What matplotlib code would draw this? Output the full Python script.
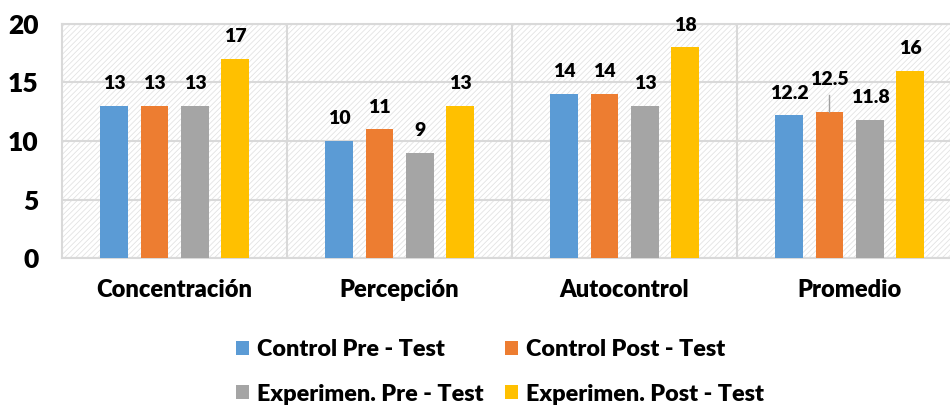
import numpy as np
import matplotlib.pyplot as plt
from matplotlib.patches import Rectangle, Patch

categories = ["Concentración", "Percepción", "Autocontrol", "Promedio"]
series_names = ["Control Pre - Test", "Control Post - Test",
                "Experimen. Pre - Test", "Experimen. Post - Test"]
control_pre = [13, 10, 14, 12.2]
control_post = [13, 11, 14, 12.5]
exper_pre = [13, 9, 13, 11.8]
exper_post = [17, 13, 18, 16]
labels_pre = ["13", "10", "14", "12.2"]
labels_post = ["13", "11", "14", "12.5"]
labels_epre = ["13", "9", "13", "11.8"]
labels_epost = ["17", "13", "18", "16"]

colors = ["#5B9BD5", "#ED7D31", "#A5A5A5", "#FFC000"]
grid_c = "#d9d9d9"
W = "heavy"

plt.rcParams['font.family'] = ['Lato', 'DejaVu Sans']
plt.rcParams['font.weight'] = W
plt.rcParams['hatch.linewidth'] = 0.6
plt.rcParams['hatch.color'] = '#e3e3e3'

fig = plt.figure(figsize=(9.5, 4.07), dpi=100)
ax = fig.add_axes([62 / 950, 1 - 258 / 407, 900 / 950, 234 / 407])

# hatched background
bg = Rectangle((0, 0), 1, 1, transform=ax.transAxes, facecolor="white",
               edgecolor="#e3e3e3", hatch="//////", linewidth=0, zorder=0)
ax.add_patch(bg)

x = np.arange(len(categories))
offsets = [-0.269, -0.089, 0.091, 0.269]
width = 0.124
all_vals = [control_pre, control_post, exper_pre, exper_post]
all_labels = [labels_pre, labels_post, labels_epre, labels_epost]

for i in range(4):
    bars = ax.bar(x + offsets[i], all_vals[i], width, color=colors[i], zorder=3)
    for j, b in enumerate(bars):
        top = b.get_height()
        cx = b.get_x() + b.get_width() / 2
        if i == 1 and j == 3:
            # label pushed up with leader line
            ax.annotate(all_labels[i][j], (cx, top), xytext=(0, 23),
                        textcoords="offset points", ha="center", va="center",
                        fontsize=14, fontweight=W, zorder=5)
            ax.plot([cx, cx], [top, top + 1.45], color="#a0a0a0", lw=1, zorder=4)
        else:
            ax.annotate(all_labels[i][j], (cx, top), xytext=(0, 16),
                        textcoords="offset points", ha="center", va="center",
                        fontsize=14, fontweight=W, zorder=5)

ax.set_xlim(-0.5, 3.5)
ax.set_ylim(0, 20)
ax.set_yticks([0, 5, 10, 15, 20])
ax.set_xticks(x)
ax.set_xticklabels(categories, fontsize=17, fontweight=W)
ax.tick_params(axis="y", labelsize=19, length=0, pad=17)
ax.tick_params(axis="x", length=0, pad=15)
ax.yaxis.grid(True, color=grid_c, lw=1.5, zorder=1)
for xv in [0.5, 1.5, 2.5]:
    ax.axvline(xv, color=grid_c, lw=1.5, zorder=1)
for s in ax.spines.values():
    s.set_color(grid_c)
    s.set_linewidth(1.5)

# legend fills column-wise, so reorder to get row-wise order
order = [0, 2, 1, 3]
handles = [Patch(facecolor=colors[k], edgecolor="none") for k in order]
fig.legend(handles, [series_names[k] for k in order], loc="center",
           bbox_to_anchor=(500 / 950, 1 - 372 / 407), ncol=2, frameon=False,
           prop={"weight": W, "size": 16.8},
           handlelength=0.55, handleheight=0.55, handletextpad=0.35,
           labelspacing=1.0, columnspacing=0.9)

fig.savefig("out.png", dpi=100)
